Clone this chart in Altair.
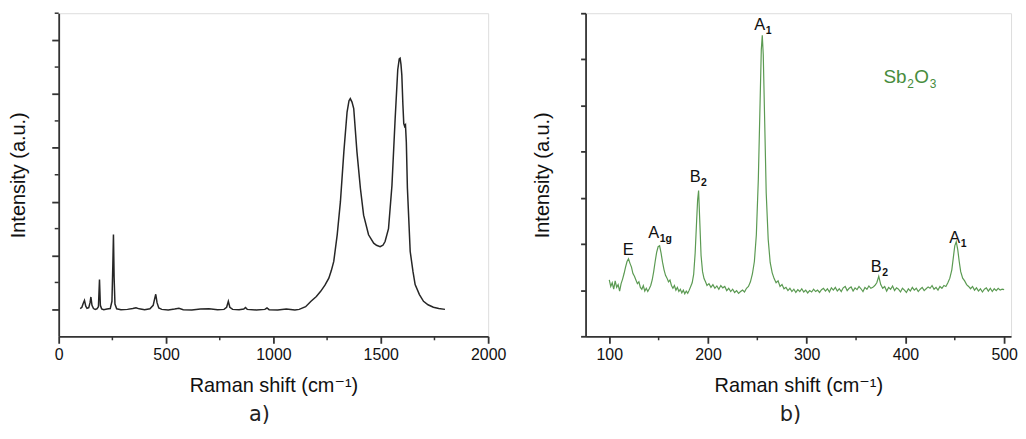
import altair as alt
import pandas as pd

# ---------------- panel a) data (Raman shift, intensity in axis-tick units) ----------------
a_shift = [100, 108, 114, 120, 126, 132, 140, 146, 150, 155, 162, 170, 178, 185, 190, 194, 200, 210,
           225, 240, 248, 252, 255, 258, 262, 270, 290, 320, 345, 360, 375, 400, 425, 440, 447, 452,
           458, 466, 480, 510, 540, 560, 580, 620, 660, 700, 740, 770, 782, 790, 797, 810, 840, 862,
           870, 878, 920, 960, 970, 980, 1020, 1060, 1100, 1120, 1150, 1175, 1200, 1220, 1240, 1258,
           1270, 1281, 1297, 1312, 1328, 1343, 1352, 1358, 1366, 1374, 1389, 1405, 1420, 1443, 1467,
           1480, 1497, 1510, 1520, 1536, 1552, 1567, 1579, 1586, 1590, 1594, 1598, 1603, 1607, 1611,
           1615, 1619, 1624, 1637, 1650, 1660, 1680, 1699, 1720, 1745, 1770, 1799]
a_int = [1.03, 1.08, 1.22, 1.33, 1.12, 1.04, 1.06, 1.25, 1.46, 1.15, 1.03, 1.00, 1.02, 1.10, 2.11, 1.15,
         1.02, 0.99, 1.01, 1.03, 1.30, 2.60, 3.78, 2.20, 1.20, 1.02, 0.99, 1.00, 1.03, 1.06, 1.02, 0.99,
         1.02, 1.15, 1.40, 1.56, 1.25, 1.05, 1.00, 0.98, 1.01, 1.04, 0.99, 0.98, 1.01, 1.02, 0.99, 1.00,
         1.08, 1.30, 1.08, 1.00, 0.99, 1.01, 1.07, 1.00, 0.98, 1.00, 1.05, 0.99, 0.98, 1.01, 0.98, 1.00,
         1.10, 1.30, 1.48, 1.67, 1.90, 2.16, 2.45, 2.78, 3.77, 5.00, 6.85, 8.33, 8.75, 8.83, 8.70, 8.46,
         6.85, 5.50, 4.50, 3.77, 3.46, 3.38, 3.33, 3.38, 3.52, 4.00, 5.60, 8.10, 9.90, 10.30, 10.33,
         10.10, 9.70, 8.60, 7.90, 7.80, 7.85, 7.20, 5.50, 3.15, 2.40, 1.92, 1.55, 1.30, 1.17, 1.08,
         1.03, 1.00]

a_xticks = [0, 500, 1000, 1500, 2000]
a_xminor = [250, 750, 1250, 1750]
a_yticks = [1, 3, 5, 7, 9, 11]
a_yminor = [2, 4, 6, 8, 10, 12]

# ---------------- panel b) data (Sb2O3): (Raman shift, intensity) pairs ----------------
b_points = [
    (100, 1.22), (101.5, 1.08), (103, 1.16), (104.5, 1.02), (106, 1.20), (107.5, 1.06), (109, 1.12),
    (110.5, 0.98), (112, 1.14), (113.5, 1.24), (115, 1.36), (116.5, 1.50), (118, 1.62), (119.5, 1.68),
    (121, 1.58), (122.5, 1.50), (124, 1.36), (125.5, 1.30), (127, 1.22), (128.5, 1.14), (130, 1.18),
    (131.5, 1.06), (133, 1.02), (134.5, 1.10), (136, 0.98), (137.5, 1.04), (139, 0.97), (140.5, 1.03),
    (142, 1.10), (143.5, 1.22), (145, 1.40), (146.5, 1.62), (148, 1.82), (149.5, 1.94), (151, 1.96),
    (152.5, 1.80), (154, 1.60), (155.5, 1.44), (157, 1.32), (158.5, 1.26), (160, 1.18), (161.5, 1.22),
    (163, 1.10), (164.5, 1.04), (166, 1.10), (167.5, 1.00), (169, 1.06), (170.5, 0.97), (172, 1.02),
    (173.5, 0.94), (175, 1.00), (176.5, 0.92), (178, 0.98), (179.5, 0.93), (181, 1.00), (182.5, 1.08),
    (184, 1.16), (185.5, 1.34), (187, 1.80), (188.5, 2.50), (189.5, 2.95), (190.5, 3.16), (191.5, 2.60),
    (193, 1.75), (194.5, 1.40), (196, 1.25), (197.5, 1.18), (199, 1.10), (201, 1.14), (203, 1.06),
    (205, 1.12), (207, 1.04), (209, 1.09), (211, 1.02), (213, 1.10), (215, 1.05), (217, 1.08),
    (219, 0.99), (221, 1.04), (223, 0.97), (225, 1.02), (227, 0.95), (229, 0.99), (231, 0.93),
    (233, 0.97), (235, 1.00), (237, 0.96), (239, 1.04), (241, 1.08), (243, 1.18), (245, 1.35),
    (247, 1.62), (249, 2.20), (251, 3.40), (252.5, 4.80), (254, 6.20), (255, 6.52), (256, 6.10),
    (257.5, 4.60), (259, 3.10), (261, 2.10), (263, 1.60), (265, 1.38), (267, 1.25), (269, 1.16),
    (271, 1.20), (273, 1.08), (275, 1.12), (277, 1.03), (279, 1.06), (281, 0.99), (283, 1.04),
    (285, 0.97), (287, 1.02), (289, 0.95), (291, 1.01), (293, 0.97), (295, 1.03), (297, 0.96),
    (299, 1.00), (301, 0.94), (303, 0.99), (305, 0.96), (307, 1.02), (309, 0.97), (311, 1.00),
    (313, 0.95), (315, 1.01), (317, 1.04), (319, 0.98), (321, 1.03), (323, 0.96), (325, 1.05),
    (327, 1.00), (329, 1.06), (331, 0.98), (333, 1.03), (335, 0.97), (337, 1.05), (339, 1.08),
    (341, 0.99), (343, 1.04), (345, 1.07), (347, 0.98), (349, 1.05), (351, 1.01), (353, 1.08),
    (355, 1.03), (357, 0.97), (359, 1.06), (361, 1.02), (363, 1.09), (365, 1.04), (367, 1.06),
    (369, 1.10), (371, 1.16), (373, 1.30), (375, 1.12), (377, 1.04), (379, 1.08), (381, 0.98),
    (383, 1.06), (385, 1.02), (387, 1.09), (389, 0.99), (391, 1.05), (393, 1.02), (395, 0.96),
    (397, 1.04), (399, 1.00), (401, 0.95), (403, 1.03), (405, 0.98), (407, 1.06), (409, 1.00),
    (411, 1.04), (413, 0.97), (415, 1.02), (417, 1.06), (419, 0.99), (421, 1.03), (423, 1.07),
    (425, 1.04), (427, 1.10), (429, 1.02), (431, 1.06), (433, 1.00), (435, 1.08), (437, 1.04),
    (439, 1.10), (441, 1.08), (443, 1.16), (445, 1.26), (447, 1.44), (448.5, 1.70), (450, 1.96),
    (451.5, 2.05), (453, 1.88), (454.5, 1.62), (456, 1.40), (458, 1.26), (460, 1.20), (462, 1.12),
    (464, 1.08), (466, 1.03), (468, 1.08), (470, 1.00), (472, 1.05), (474, 0.98), (476, 1.03),
    (478, 0.96), (480, 1.02), (482, 1.05), (484, 0.98), (486, 1.04), (488, 0.97), (490, 1.03),
    (492, 0.99), (494, 1.04), (496, 1.00), (498, 1.02), (500, 1.01),
]
b_shift = [p[0] for p in b_points]
b_int = [p[1] for p in b_points]

b_xticks = [100, 200, 300, 400, 500]
b_xminor = [150, 250, 350, 450]
b_yticks = [0, 1, 2, 3, 4, 5, 6, 7]

peak_x = [119.1, 145.0, 187.0, 252.5, 370.4, 449.9]
peak_y = [1.76, 2.12, 3.34, 6.64, 1.40, 2.03]
peak_main = ["E", "A", "B", "A", "B", "A"]
peak_sub = ["", "1g", "2", "1", "2", "1"]

formula_x = [377.8]
formula_y = [5.49]

FONT = "Liberation Sans, Arial, DejaVu Sans"
AXC = "#333333"
XTITLE = "Raman shift (cm\u207b\u00b9)"
YTITLE = "Intensity (a.u.)"
H = 325


def x_axis(values):
    return alt.Axis(values=values, format="d", title=XTITLE, tickSize=7, labelPadding=3,
                    titlePadding=14, labelFontSize=16, titleFontSize=20, labelFont=FONT,
                    titleFont=FONT, titleFontWeight="normal", labelColor="#111", titleColor="#111",
                    domainColor=AXC, tickColor=AXC, domainWidth=1.8, tickWidth=1.8, grid=False,
                    labelFlush=False)


def y_axis(values, tick, pad):
    return alt.Axis(values=values, labels=False, title=YTITLE, tickSize=tick, titlePadding=pad,
                    titleFontSize=20, titleFont=FONT, titleFontWeight="normal", titleColor="#111",
                    domainColor=AXC, tickColor=AXC, domainWidth=1.8, tickWidth=1.8, grid=False)


def panel_title(txt, dx):
    return alt.TitleParams(txt, orient="bottom", font="DejaVu Sans", fontSize=21,
                           fontWeight="normal", color="#222", offset=8, frame="group", dx=dx)


# ---------------- panel a ----------------
xa = alt.X("x:Q", scale=alt.Scale(domain=[0, 2000], nice=False, zero=False), axis=x_axis(a_xticks))
ya = alt.Y("y:Q", scale=alt.Scale(domain=[0, 12], nice=False, zero=False), axis=y_axis(a_yticks, 7, 22))

line_a = alt.Chart(pd.DataFrame({"x": a_shift, "y": a_int})).mark_line(
    color="#262626", strokeWidth=1.5).encode(x=xa, y=ya)
minx_a = alt.Chart(pd.DataFrame({"x": a_xminor})).mark_rule(color=AXC, strokeWidth=1.5).encode(
    x=xa, y=alt.value(H), y2=alt.value(H + 4))
miny_a = alt.Chart(pd.DataFrame({"y": a_yminor})).mark_rule(color=AXC, strokeWidth=1.5).encode(
    y=ya, x=alt.value(-4), x2=alt.value(0))

panel_a = alt.layer(line_a, minx_a, miny_a).properties(
    width=432, height=H, title=panel_title("a)", -14))

# ---------------- panel b ----------------
xb = alt.X("x:Q", scale=alt.Scale(domain=[76, 507], nice=False, zero=False), axis=x_axis(b_xticks))
yb = alt.Y("y:Q", scale=alt.Scale(domain=[0, 7], nice=False, zero=False), axis=y_axis(b_yticks, 5, 27))

line_b = alt.Chart(pd.DataFrame({"x": b_shift, "y": b_int})).mark_line(
    color="#5b9a52", strokeWidth=1.2).encode(x=xb, y=yb)
minx_b = alt.Chart(pd.DataFrame({"x": b_xminor})).mark_rule(color=AXC, strokeWidth=1.5).encode(
    x=xb, y=alt.value(H), y2=alt.value(H + 4))

peaks = pd.DataFrame({"x": peak_x, "y": peak_y, "main": peak_main, "sub": peak_sub})
lab_main = alt.Chart(peaks).mark_text(align="center", baseline="alphabetic", fontSize=16.5,
                                      font=FONT, color="#111").encode(x=xb, y=yb, text="main:N")
lab_sub = alt.Chart(peaks).mark_text(align="left", baseline="alphabetic", fontSize=10.5, dx=6, dy=4,
                                     font=FONT, fontWeight="bold", color="#111").encode(
    x=xb, y=yb, text="sub:N")

fdf = pd.DataFrame({"x": formula_x, "y": formula_y})
GREEN = "#478c3c"
f1 = alt.Chart(fdf).mark_text(text="Sb", align="left", baseline="alphabetic", fontSize=19,
                              font=FONT, color=GREEN).encode(x=xb, y=yb)
f2 = alt.Chart(fdf).mark_text(text="2", align="left", baseline="alphabetic", fontSize=12, dx=24,
                              dy=5, font=FONT, color=GREEN).encode(x=xb, y=yb)
f3 = alt.Chart(fdf).mark_text(text="O", align="left", baseline="alphabetic", fontSize=19, dx=31,
                              font=FONT, color=GREEN).encode(x=xb, y=yb)
f4 = alt.Chart(fdf).mark_text(text="3", align="left", baseline="alphabetic", fontSize=12, dx=46.5,
                              dy=5, font=FONT, color=GREEN).encode(x=xb, y=yb)

panel_b = alt.layer(line_b, minx_b, lab_main, lab_sub, f1, f2, f3, f4).properties(
    width=428, height=H, title=panel_title("b)", -8))

chart = alt.hconcat(panel_a, panel_b, spacing=25).properties(
    padding={"left": 0, "top": 2, "right": 0, "bottom": 0}
).configure_view(stroke=None).configure(background="white")

chart.save("out.html", embed_options={"renderer": "svg", "actions": False})
